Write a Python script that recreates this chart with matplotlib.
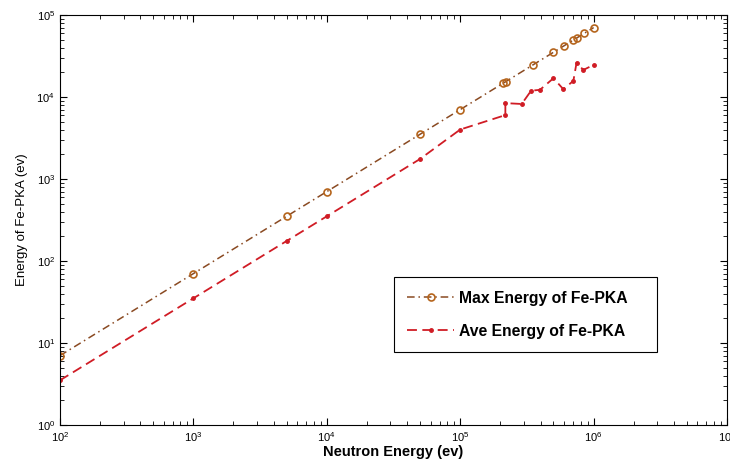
import matplotlib.pyplot as plt

plt.rcParams['font.family'] = ['Liberation Sans', 'DejaVu Sans']

# neutron energy (ev) and max PKA energy
max_x = [1e2, 1e3, 5e3, 1e4, 5e4, 1e5, 2.1e5, 2.2e5, 3.5e5, 5e5, 6e5, 7e5, 7.5e5, 8.5e5, 1e6]
max_y = [7, 70, 350, 700, 3500, 7000, 14700, 15400, 24500, 35000, 42000, 49000, 52500, 59500, 70000]

# average PKA energy
ave_x = [1e2, 1e3, 5e3, 1e4, 5e4, 1e5, 2.18e5, 2.18e5, 2.89e5, 3.4e5, 3.96e5, 5e5, 5.93e5, 7.05e5, 7.45e5, 8.37e5, 1e6]
ave_y = [3.5, 35, 175, 350, 1750, 4000, 6000, 8400, 8200, 11900, 12200, 16900, 12400, 15700, 26200, 21300, 24600]

fig = plt.figure(figsize=(7.3, 4.65), dpi=100)
ax = fig.add_axes([0.082, 0.086, 0.914, 0.882])

ax.loglog(max_x, max_y, linestyle=(0, (5, 2.5, 1, 2.5)), color='#8a4a22', linewidth=1.1,
          marker='o', markersize=5, markerfacecolor='none', markeredgecolor='#b5651d',
          markeredgewidth=1.2, label='Max Energy of Fe-PKA')
ax.loglog(ave_x, ave_y, linestyle=(0, (5.5, 3)), color='#d01c25', linewidth=1.3,
          marker='.', markersize=5, label='Ave Energy of Fe-PKA')

ax.set_xlim(1e2, 1e7)
ax.set_ylim(1e0, 1e5)
ax.tick_params(which='both', direction='in', top=True, right=True, labelsize=8)
ax.tick_params(which='major', length=5)
ax.tick_params(which='minor', length=3)

ax.set_xlabel('Neutron Energy (ev)', fontsize=10.5, fontweight='bold', labelpad=1)
ax.set_ylabel('Energy of Fe-PKA (ev)', fontsize=9.5, labelpad=6)

leg = ax.legend(loc='lower left', bbox_to_anchor=(0.5008, 0.178, 0.394, 0.18), mode='expand',
                borderaxespad=0, fancybox=False, edgecolor='black', framealpha=1,
                handlelength=3.0, handletextpad=0.3, labelspacing=1.15, borderpad=0.85,
                prop={'size': 11.3, 'weight': 'bold'})
leg.get_frame().set_linewidth(0.8)

plt.savefig('out.png', dpi=100)
